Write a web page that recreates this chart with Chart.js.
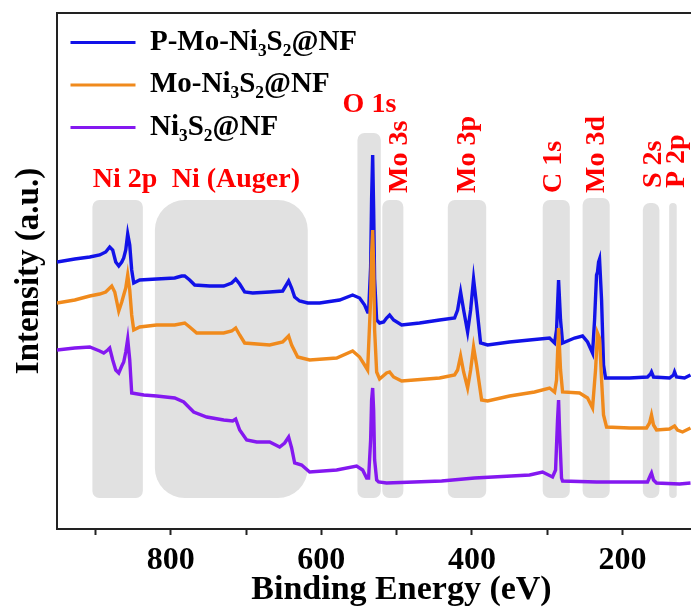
<!DOCTYPE html>
<html>
<head>
<meta charset="utf-8">
<script src="https://cdn.jsdelivr.net/npm/chart.js@4.4.1/dist/chart.umd.min.js"></script>
<style>
html,body{margin:0;padding:0;background:#fff;overflow:hidden;}
#wrap{width:691px;height:614px;overflow:hidden;position:relative;background:#fff;}
canvas{display:block;}
</style>
</head>
<body>
<div id="wrap"><canvas id="c" width="746" height="614"></canvas></div>
<script>
// ---- Series names ----
const seriesNames = ['P-Mo-Ni\u2083S\u2082@NF', 'Mo-Ni\u2083S\u2082@NF', 'Ni\u2083S\u2082@NF'];

// ---- P-Mo-Ni3S2@NF : binding energy (eV) and intensity (a.u.) ----
const pmoEnergy = [951, 927.4, 907.5, 894.3, 886.3, 881.0, 877.0, 873.0, 869.0, 865.0, 862.4, 859.7, 857.1, 854.4, 851.8, 849.1, 841.2, 818.6, 794.7, 785.4, 781.4, 774.8, 768.1, 748.2, 729.6, 719.0, 713.7, 708.4, 701.8, 691.1, 668.6, 651.3, 647.3, 643.4, 639.4, 635.4, 628.8, 618.1, 602.2, 575.7, 558.4, 549.1, 542.5, 538.5, 537.2, 534.5, 533.2, 531.8, 530.5, 529.2, 526.5, 522.6, 517.2, 513.3, 509.3, 504.0, 493.3, 469.5, 442.9, 423.0, 419.0, 415.0, 411.0, 405.7, 401.7, 397.8, 393.8, 388.5, 379.2, 350.0, 323.4, 296.9, 290.2, 287.6, 284.9, 282.3, 279.6, 263.7, 253.1, 246.4, 239.8, 237.1, 234.5, 233.2, 231.8, 230.5, 227.8, 225.2, 222.5, 190.7, 166.8, 162.8, 161.5, 158.8, 137.6, 132.3, 130.9, 128.3, 117.7, 109.7];
const pmoIntensity = [267, 270, 272, 274, 277, 282, 279, 267, 263, 267, 271, 279, 295, 284, 259, 246, 249, 250, 251, 253, 253, 249, 244, 243, 243, 246, 250, 245, 237, 236, 237, 238, 243, 248, 241, 232, 228, 226, 226, 229, 234, 231, 224, 217, 217, 262, 330, 374, 320, 250, 209, 206, 207, 211, 214, 209, 204, 206, 209, 211, 219, 237, 219, 197, 219, 250, 224, 186, 184, 187, 189, 191, 186, 199, 249, 209, 186, 191, 193, 187, 176, 209, 254, 257, 267, 270, 229, 164, 151, 151, 152, 155, 157, 152, 151, 154, 157, 152, 151, 154];

// ---- Mo-Ni3S2@NF ----
const moEnergy = [951, 927.4, 907.5, 894.3, 886.3, 878.3, 874.3, 869.0, 865.0, 862.4, 859.7, 857.1, 854.4, 851.8, 849.1, 841.2, 818.6, 794.7, 781.4, 774.8, 765.5, 748.2, 729.6, 719.0, 713.7, 708.4, 701.8, 668.6, 651.3, 643.4, 639.4, 631.4, 615.5, 579.6, 558.4, 549.1, 542.5, 538.5, 534.5, 533.2, 531.8, 530.5, 529.2, 526.5, 522.6, 513.3, 509.3, 504.0, 493.3, 442.9, 423.0, 419.0, 415.0, 411.0, 405.7, 401.7, 397.8, 393.8, 387.1, 379.2, 350.0, 316.8, 296.9, 290.2, 287.6, 284.9, 282.3, 279.6, 257.0, 246.4, 239.8, 235.8, 233.2, 230.5, 227.8, 225.2, 221.2, 190.7, 168.1, 164.1, 161.5, 158.8, 154.8, 137.6, 130.9, 127.0, 120.3, 109.7];
const moIntensity = [226, 229, 233, 235, 237, 243, 237, 218, 227, 234, 241, 254, 239, 214, 199, 202, 204, 204, 206, 202, 196, 196, 196, 198, 201, 194, 186, 184, 187, 193, 184, 172, 169, 171, 178, 172, 164, 159, 229, 274, 299, 264, 199, 157, 150, 156, 157, 152, 148, 151, 154, 159, 173, 157, 141, 159, 182, 164, 129, 128, 133, 137, 141, 137, 149, 201, 159, 137, 136, 131, 121, 159, 196, 191, 149, 114, 102, 101, 101, 106, 114, 104, 99, 100, 103, 99, 97, 101];

// ---- Ni3S2@NF ----
const niEnergy = [951, 927.4, 907.5, 894.3, 888.9, 883.6, 881.0, 877.0, 873.0, 869.0, 865.0, 862.4, 859.7, 857.1, 854.4, 851.8, 835.8, 818.6, 794.7, 782.7, 774.8, 769.5, 752.2, 729.6, 717.7, 713.7, 708.4, 699.1, 685.8, 668.6, 655.3, 648.7, 643.4, 639.4, 635.4, 626.1, 615.5, 579.6, 553.1, 545.1, 539.8, 537.2, 534.5, 533.2, 531.8, 530.5, 529.2, 526.5, 523.9, 513.3, 440.2, 396.4, 323.4, 306.2, 292.9, 288.9, 286.3, 284.9, 283.6, 281.0, 279.6, 234.5, 190.7, 166.8, 162.8, 161.5, 158.8, 154.8, 124.3, 109.7];
const niIntensity = [179, 181, 182, 178, 176, 179, 181, 169, 159, 156, 163, 167, 177, 190, 169, 136, 134, 133, 131, 127, 121, 117, 112, 109, 108, 110, 99, 89, 87, 87, 82, 86, 92, 81, 66, 64, 57, 59, 63, 59, 51, 51, 89, 129, 141, 119, 69, 49, 47, 46, 48, 51, 54, 57, 52, 59, 109, 129, 99, 51, 48, 47, 47, 47, 54, 56, 49, 46, 45, 46];

// ---- Shaded element regions (binding energy range, top of band in a.u.) ----
const bandNames = ['Ni 2p', 'Ni (Auger)', 'O 1s', 'Mo 3s', 'Mo 3p', 'C 1s', 'Mo 3d', 'S 2s', 'P 2p'];
const bandFrom  = [904, 821, 552, 519, 432, 306, 253, 173, 138];
const bandTo    = [837, 618, 521, 491, 381, 270, 217, 151, 128];
const bandTop   = [329, 329, 396, 329, 329, 329, 331, 326, 326];
const bandBottom = 31;

// ---- Peak labels (anchor in data coordinates) ----
const peakLabelText = ['Ni 2p', 'Ni (Auger)', 'O 1s', 'Mo 3s', 'Mo 3p', 'C 1s', 'Mo 3d', 'S 2s', 'P 2p'];
const peakLabelE    = [903.5, 798.7, 571.7, 486.7, 396.4, 282.3, 225.2, 149.5, 117.7];
const peakLabelI    = [342, 342, 417, 336, 336, 336, 336, 341, 341];
const peakLabelVertical = [false, false, false, true, true, true, true, true, true];

const SERIF = '"Liberation Serif", "Times New Roman", Times, serif';
const colors = ['#1212e8', '#f08a1c', '#8418f0'];

function pts(E, I) { return E.map((e, i) => ({ x: e, y: I[i] })); }

const bandPlugin = {
  id: 'bands',
  afterLayout(chart) {
    // place the legend box inside the plotting area, starting at its top edge
    const lg = chart.legend;
    if (lg) {
      lg.top = chart.chartArea.top + 1.5;
      lg.bottom = chart.chartArea.bottom;
    }
  },
  beforeDatasetsDraw(chart) {
    const { ctx, scales: { x, y } } = chart;
    ctx.save();
    ctx.fillStyle = '#e1e1e1';
    for (let i = 0; i < bandNames.length; i++) {
      const x1 = x.getPixelForValue(bandFrom[i]);
      const x2 = x.getPixelForValue(bandTo[i]);
      const yt = y.getPixelForValue(bandTop[i]);
      const yb = y.getPixelForValue(bandBottom);
      const w = x2 - x1, h = yb - yt;
      const r = bandNames[i] === 'Ni (Auger)' ? 30 : Math.min(7, w / 2);
      ctx.beginPath();
      ctx.roundRect(x1, yt, w, h, r);
      ctx.fill();
    }
    ctx.restore();
  },
  afterDatasetsDraw(chart) {
    const { ctx, scales: { x, y } } = chart;
    ctx.save();
    ctx.fillStyle = '#ff0000';
    ctx.font = 'bold 28px ' + SERIF;
    ctx.textAlign = 'left';
    ctx.textBaseline = 'alphabetic';
    for (let i = 0; i < peakLabelText.length; i++) {
      const px = x.getPixelForValue(peakLabelE[i]);
      const py = y.getPixelForValue(peakLabelI[i]);
      ctx.save();
      ctx.translate(px, py);
      if (peakLabelVertical[i]) ctx.rotate(-Math.PI / 2);
      ctx.fillText(peakLabelText[i], 0, 0);
      ctx.restore();
    }
    ctx.restore();
  }
};

const chart = new Chart(document.getElementById('c'), {
  type: 'line',
  data: {
    datasets: [
      { label: seriesNames[0], data: pts(pmoEnergy, pmoIntensity), borderColor: colors[0], backgroundColor: colors[0], order: 2 },
      { label: seriesNames[1], data: pts(moEnergy, moIntensity), borderColor: colors[1], backgroundColor: colors[1], order: 1 },
      { label: seriesNames[2], data: pts(niEnergy, niIntensity), borderColor: colors[2], backgroundColor: colors[2], order: 0 }
    ]
  },
  options: {
    responsive: false,
    animation: false,
    devicePixelRatio: 1,
    layout: { padding: 0 },
    elements: { point: { radius: 0 }, line: { borderWidth: 3.4, tension: 0, fill: false } },
    plugins: {
      tooltip: { enabled: false },
      legend: {
        position: 'chartArea',
        align: 'start',
        labels: {
          boxWidth: 65,
          boxHeight: 3,
          padding: 13.5,
          color: '#000',
          font: { family: SERIF, weight: 'bold', size: 29 },
          sort: (a, b) => a.datasetIndex - b.datasetIndex,
          generateLabels: (c) => Chart.defaults.plugins.legend.labels.generateLabels(c).map(l => Object.assign({}, l, { lineWidth: 0, fillStyle: l.strokeStyle }))
        }
      }
    },
    scales: {
      x: {
        type: 'linear', position: 'bottom', reverse: true, min: 36, max: 951,
        ticks: {
          stepSize: 100, includeBounds: false, autoSkip: false, maxRotation: 0, padding: 7,
          color: '#000', font: { family: SERIF, weight: 'bold', size: 32 },
          callback: (v) => (v % 200 === 0 ? String(v) : '')
        },
        grid: { display: true, drawOnChartArea: false, drawTicks: true, tickLength: 6, tickWidth: 2, tickColor: '#222', color: '#222' },
        border: { display: true, color: '#222', width: 2 },
        title: { display: true, text: 'Binding Energy (eV)', color: '#000', font: { family: SERIF, weight: 'bold', size: 34 }, padding: { top: 0, bottom: 3 } },
        afterFit: (s) => { s.height = 85; }
      },
      x2: {
        type: 'linear', position: 'top', reverse: true, min: 36, max: 951, display: true,
        ticks: { display: false },
        grid: { display: false, drawTicks: false },
        border: { display: true, color: '#222', width: 2 },
        afterFit: (s) => { s.height = 13; }
      },
      y: {
        type: 'linear', position: 'left', min: 0, max: 516,
        ticks: { display: false },
        grid: { display: false, drawTicks: false },
        border: { display: true, color: '#222', width: 2 },
        title: { display: true, text: 'Intensity (a.u.)', color: '#000', font: { family: SERIF, weight: 'bold', size: 33 }, padding: { top: 10, bottom: 0 } },
        afterFit: (s) => { s.width = 57; }
      }
    }
  },
  plugins: [bandPlugin]
});
</script>
</body>
</html>
